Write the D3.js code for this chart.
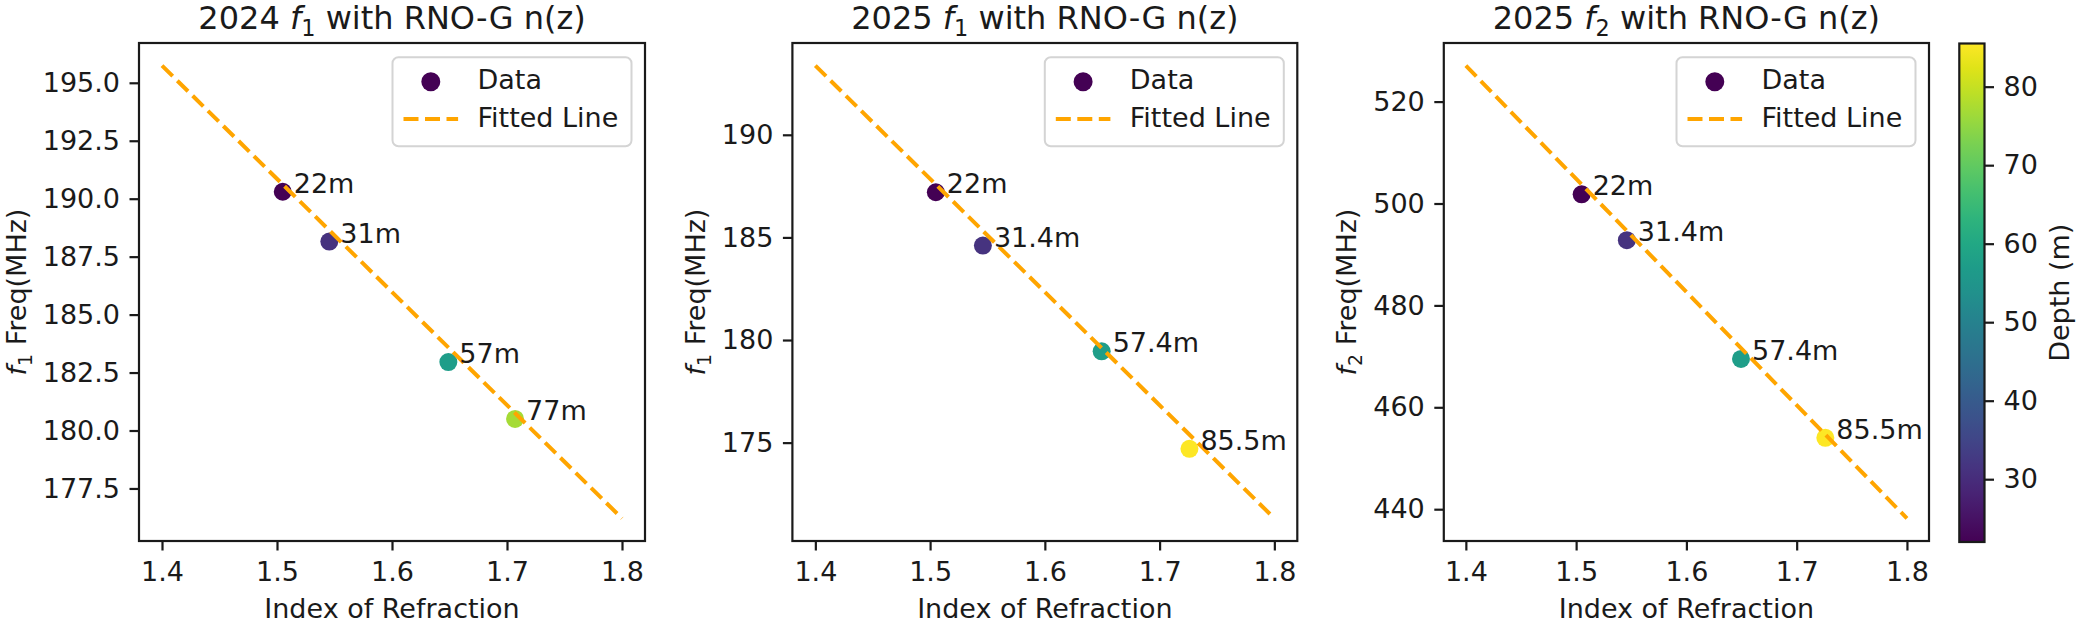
<!DOCTYPE html>
<html>
<head>
<meta charset="utf-8">
<script src="https://cdn.jsdelivr.net/npm/d3@7"></script>
<style>
  body { margin: 0; background: #fff; }
  svg { display: block; font-family: "DejaVu Sans", sans-serif; }
</style>
</head>
<body>
<div id="chart"></div>
<script>
// index of refraction at each measured depth
const index2024 = [1.505, 1.5455, 1.649, 1.707];
const index2025 = [1.505, 1.546, 1.6495, 1.726];
const depth2024 = [22, 31, 57, 77];
const depth2025 = [22, 31.4, 57.4, 85.5];
const depthLabels2024 = ["22m", "31m", "57m", "77m"];
const depthLabels2025 = ["22m", "31.4m", "57.4m", "85.5m"];

// measured frequencies (MHz)
const f1_2024 = [190.3, 188.15, 182.95, 180.5];
const f1_2025 = [187.2, 184.6, 179.45, 174.7];
const f2_2025 = [501.8, 492.8, 469.5, 454.0];

// fitted lines, read at the two ends of the index range
const fitIndex = [1.4, 1.8];
const fit_f1_2024 = [195.74, 176.21];
const fit_f1_2025 = [193.37, 171.31];
const fit_f2_2025 = [527.06, 438.2];

// ticks
const xTicks = [1.4, 1.5, 1.6, 1.7, 1.8];
const yTicks_f1_2024 = [177.5, 180, 182.5, 185, 187.5, 190, 192.5, 195];
const yTicks_f1_2025 = [175, 180, 185, 190];
const yTicks_f2_2025 = [440, 460, 480, 500, 520];
const depthTicks = [30, 40, 50, 60, 70, 80];
const depthRange = [22, 85.5];

const W = 2080, H = 624;
const FS = 27;          // tick / label font size
const TITLE_FS = 32;
const TOP = 43, BOTTOM = 541;
const TICK = 9.5, PAD = 9.5;
const INK = "#1a1a1a";

const svg = d3.select("#chart").append("svg")
    .attr("width", W)
    .attr("height", H)
    .attr("viewBox", `0 0 ${W} ${H}`);

const color = d3.scaleSequential(d3.interpolateViridis).domain(depthRange);

// "<before> f_sub <after>" in matplotlib mathtext style
function mathText(sel, before, sub, after, fs) {
    const shift = fs * 0.22;
    if (before) sel.append("tspan").text(before);
    sel.append("tspan").attr("font-style", "italic").text("f");
    sel.append("tspan").attr("font-size", fs * 0.7).attr("dy", shift).text(sub);
    sel.append("tspan").attr("dy", -shift).text(after);
}

function pad5(vals) {
    const [lo, hi] = d3.extent(vals);
    const m = (hi - lo) * 0.05;
    return [lo - m, hi + m];
}

function drawPanel(p) {
    const x = d3.scaleLinear()
        .domain(pad5(fitIndex.concat(p.index)))
        .range([p.left, p.right]);
    const y = d3.scaleLinear()
        .domain(pad5(p.fit.concat(p.freq)))
        .range([BOTTOM, TOP]);

    const g = svg.append("g");

    // x axis
    const xa = g.append("g")
        .attr("transform", `translate(0,${BOTTOM})`)
        .call(d3.axisBottom(x).tickValues(xTicks).tickFormat(d3.format(".1f"))
            .tickSize(TICK).tickPadding(PAD).tickSizeOuter(0));
    // y axis
    const ya = g.append("g")
        .attr("transform", `translate(${p.left},0)`)
        .call(d3.axisLeft(y).tickValues(p.yTicks).tickFormat(d3.format(p.yFormat))
            .tickSize(TICK).tickPadding(PAD).tickSizeOuter(0));

    [xa, ya].forEach(a => {
        a.select(".domain").remove();
        a.selectAll("line").attr("stroke", INK).attr("stroke-width", 2.2);
        a.selectAll("text").attr("fill", INK).style("font-size", FS + "px")
            .style("font-family", "DejaVu Sans");
    });
    xa.selectAll("text").attr("dy", "0.76em");

    // points under the fitted line
    g.selectAll(".pt")
        .data(p.index.map((n, i) => ({ n, f: p.freq[i], d: p.depth[i] })))
        .enter()
        .append("circle")
        .attr("cx", d => x(d.n))
        .attr("cy", d => y(d.f))
        .attr("r", 9)
        .attr("fill", d => color(d.d));

    g.append("path")
        .datum(fitIndex.map((n, i) => [n, p.fit[i]]))
        .attr("d", d3.line().x(d => x(d[0])).y(d => y(d[1])))
        .attr("fill", "none")
        .attr("stroke", "#ffa500")
        .attr("stroke-width", 4)
        .attr("stroke-dasharray", "15,6.5");

    g.selectAll(".lab")
        .data(p.index.map((n, i) => ({ n, f: p.freq[i], lab: p.labels[i] })))
        .enter()
        .append("text")
        .attr("x", d => x(d.n) + 11)
        .attr("y", d => y(d.f) + 1)
        .attr("fill", INK)
        .style("font-size", FS + "px")
        .text(d => d.lab);

    // frame
    g.append("rect")
        .attr("x", p.left).attr("y", TOP)
        .attr("width", p.right - p.left).attr("height", BOTTOM - TOP)
        .attr("fill", "none").attr("stroke", INK).attr("stroke-width", 2.2);

    // legend
    const lw = 239, lh = 89;
    const bx = p.right - 13.5 - lw, by = TOP + 14.3;
    const leg = g.append("g");
    leg.append("rect")
        .attr("x", bx).attr("y", by).attr("width", lw).attr("height", lh)
        .attr("rx", 6)
        .attr("fill", "#fff").attr("fill-opacity", 0.8)
        .attr("stroke", "#d4d4d4").attr("stroke-width", 2);
    leg.append("circle")
        .attr("cx", bx + 38.3).attr("cy", by + 24.4).attr("r", 9.5)
        .attr("fill", color(depthRange[0]));
    leg.append("line")
        .attr("x1", bx + 11).attr("x2", bx + 65.6)
        .attr("y1", by + 61.7).attr("y2", by + 61.7)
        .attr("stroke", "#ffa500").attr("stroke-width", 4)
        .attr("stroke-dasharray", "15,6.5");
    leg.append("text")
        .attr("x", bx + 85).attr("y", by + 31.5)
        .attr("fill", INK).style("font-size", FS + "px")
        .text("Data");
    leg.append("text")
        .attr("x", bx + 85).attr("y", by + 70)
        .attr("fill", INK).style("font-size", FS + "px")
        .text("Fitted Line");

    // title
    const title = g.append("text")
        .attr("x", (p.left + p.right) / 2)
        .attr("y", 28.5)
        .attr("text-anchor", "middle")
        .attr("fill", INK)
        .style("font-size", TITLE_FS + "px");
    mathText(title, p.year + " ", p.sub, " with RNO-G n(z)", TITLE_FS);

    // x label
    g.append("text")
        .attr("x", (p.left + p.right) / 2)
        .attr("y", 618)
        .attr("text-anchor", "middle")
        .attr("fill", INK)
        .style("font-size", FS + "px")
        .text("Index of Refraction");

    // y label, placed left of the tick labels
    const bb = ya.node().getBBox();
    const lx = p.left + bb.x - 17;
    const ylab = g.append("text")
        .attr("transform", `translate(${lx},${(TOP + BOTTOM) / 2}) rotate(-90)`)
        .attr("text-anchor", "middle")
        .attr("fill", INK)
        .style("font-size", FS + "px");
    mathText(ylab, "", p.sub, " Freq(MHz)", FS);
}

drawPanel({
    left: 139, right: 645, year: "2024", sub: "1",
    index: index2024, freq: f1_2024, depth: depth2024, labels: depthLabels2024,
    fit: fit_f1_2024, yTicks: yTicks_f1_2024, yFormat: ".1f"
});
drawPanel({
    left: 792.4, right: 1297.3, year: "2025", sub: "1",
    index: index2025, freq: f1_2025, depth: depth2025, labels: depthLabels2025,
    fit: fit_f1_2025, yTicks: yTicks_f1_2025, yFormat: "d"
});
drawPanel({
    left: 1443.8, right: 1929, year: "2025", sub: "2",
    index: index2025, freq: f2_2025, depth: depth2025, labels: depthLabels2025,
    fit: fit_f2_2025, yTicks: yTicks_f2_2025, yFormat: "d"
});

// colorbar
const cbLeft = 1959.3, cbRight = 1984.5, cbTop = 43.5, cbBottom = 542;
const grad = svg.append("defs").append("linearGradient")
    .attr("id", "viridis")
    .attr("x1", 0).attr("y1", 1).attr("x2", 0).attr("y2", 0);
d3.range(0, 1.0001, 0.05).forEach(t => {
    grad.append("stop")
        .attr("offset", t)
        .attr("stop-color", d3.interpolateViridis(t));
});
svg.append("rect")
    .attr("x", cbLeft).attr("y", cbTop)
    .attr("width", cbRight - cbLeft).attr("height", cbBottom - cbTop)
    .attr("fill", "url(#viridis)")
    .attr("stroke", INK).attr("stroke-width", 2.2);

const cbScale = d3.scaleLinear().domain(depthRange).range([cbBottom, cbTop]);
const cbAxis = svg.append("g")
    .attr("transform", `translate(${cbRight},0)`)
    .call(d3.axisRight(cbScale).tickValues(depthTicks).tickSize(TICK).tickPadding(PAD).tickSizeOuter(0));
cbAxis.select(".domain").remove();
cbAxis.selectAll("line").attr("stroke", INK).attr("stroke-width", 2.2);
cbAxis.selectAll("text").attr("fill", INK).style("font-size", FS + "px")
    .style("font-family", "DejaVu Sans");

svg.append("text")
    .attr("transform", `translate(2069,${(cbTop + cbBottom) / 2}) rotate(-90)`)
    .attr("text-anchor", "middle")
    .attr("fill", INK)
    .style("font-size", FS + "px")
    .text("Depth (m)");
</script>
</body>
</html>
